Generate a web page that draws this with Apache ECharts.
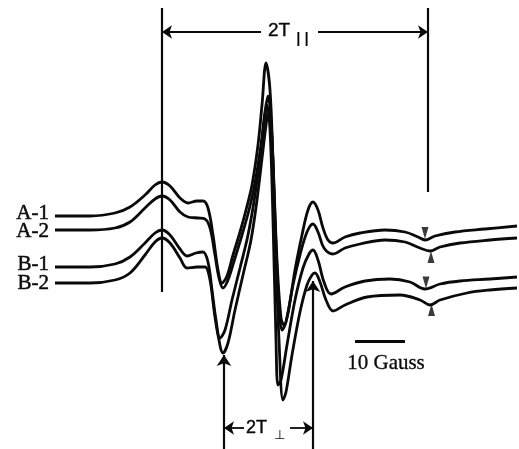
<!DOCTYPE html>
<html><head><meta charset="utf-8">
<script src="https://cdn.jsdelivr.net/npm/echarts@6/dist/echarts.min.js"></script>
<style>html,body{margin:0;padding:0;background:#fff}#c{width:519px;height:449px}</style>
</head><body><div id="c"></div>
<script>
// Field in Gauss (relative), signal in arbitrary units (spectra offset vertically)
const fieldA1 = [11,18,23,26,29,31,32.4,34,36,37.6,39.4,40.6,41.6,42.6,43.6,44.4,45.4,46.6,48,49.2,50.4,51.6,52.4,53.2,54,54.6,55.4,56.2,56.8,57.6,59,60.4,61.6,62.6,63.6,64.6,65.6,66.6,69,72,77,81,83.6,85,87,91,97,103.4];
const signalA1 = [233,233,236,242,254,264,267,263,251,246,248,248,241,214,179,166,173,194,217,239,264,304,344,386,359,289,189,131,124,136,179,214,239,247,239,221,209,206,212,216,219,217,212,209,213,217,220,223];

const fieldA2 = [11,18,23,26,29,31,32.4,34,36,37.6,39.6,41,42,43,43.8,44.6,45.6,47,48.4,49.8,51,52.2,53,53.6,54.2,54.8,55.4,56,56.4,57.2,58.6,60,61.4,62.6,63.6,64.8,66.6,69,72,77,81,84,86,88,92,98,103.4];
const signalA2 = [219,219,221,227,241,250,253,249,237,232,231,230,221,194,171,161,169,191,214,239,266,304,337,353,329,259,179,129,119,127,164,194,217,225,217,201,195,201,205,209,207,201,198,202,206,209,211];

const fieldB1 = [11,18,23,26,29,31,32.4,34,36,37.4,39.2,40.6,41.6,42.4,43.2,44,45,46.4,48,49.6,51,52.2,53,53.4,54,54.6,55.2,55.6,56.2,57.4,59,60.6,61.8,62.6,63.6,64.8,66.2,69,73,78,82,85,88,92,98,103.4];
const signalB1 = [182,182,185,192,206,216,219,214,200,193,196,197,187,159,129,111,119,149,181,214,254,299,334,344,319,229,109,64,69,104,149,181,195,199,189,167,155,162,168,170,167,160,165,168,170,172];

const fieldB2 = [11,18,23,26,29,31,32.4,34,36,37.4,39.4,41,42,42.8,43.6,44.6,45.6,47,48.6,50.2,51.4,52.6,53.4,53.8,54.4,55,55.8,56.6,57.2,58.4,60,61.4,62.4,63,64,65.2,66.6,69,73.4,80,84,86,88,93.4,98,103.4];
const signalB2 = [166,166,169,176,194,207,211,206,191,181,182,182,169,139,114,96,106,139,174,209,249,299,331,339,309,219,109,49,57,94,137,164,174,176,167,149,138,144,152,154,149,144,149,156,159,161];

const traceLabels = ['A-1','A-2','B-1','B-2'];
const traceFields = [fieldA1, fieldA2, fieldB1, fieldB2];
const traceSignals = [signalA1, signalA2, signalB1, signalB2];

// features
const gParallelLow = 32.4, gParallelHigh = 85.6;
const gPerpLow = 44.8, gPerpHigh = 62.6;
const markerFields = [85, 86.2, 85.2, 86.3];
const markerSignals = [216, 192, 166.5, 139];
const markerDown = [true, false, true, false];
const scaleBarStart = 71, scaleBarGauss = 10;

const chart = echarts.init(document.getElementById('c'), null, {renderer:'canvas'});
const black = '#0a0a0a';

const lineSeries = traceLabels.map((name, i) => ({
  name, type:'line', smooth:0.35, symbol:'none', animation:false,
  data: traceFields[i].map((f, j) => [f, traceSignals[i][j]]),
  lineStyle:{color:black, width:2.8}
}));

function seg(a, b, arrow, width, size){
  return {type:'lines', coordinateSystem:'cartesian2d', animation:false,
    symbol: arrow ? ['none','arrow'] : ['none','none'], symbolSize: size || 10,
    lineStyle:{color:black, width: width||1.6, opacity:1},
    data:[{coords:[a,b]}]};
}

const annot = [
  seg([gParallelLow, 157],[gParallelLow, 441], false, 2.2),
  seg([gParallelHigh, 257],[gParallelHigh, 441], false, 2.2),
  seg([52.2, 417],[gParallelLow, 417], true, 1.8),
  seg([63.6, 417],[gParallelHigh, 417], true, 1.8),
  seg([gPerpLow, 0],[gPerpLow, 94], true, 2.2, 11),
  seg([gPerpHigh, 0],[gPerpHigh, 168], true, 2.2, 11),
  seg([48.8, 21],[gPerpLow, 21], true, 1.8),
  seg([58, 21],[gPerpHigh, 21], true, 1.8),
  seg([scaleBarStart, 108],[scaleBarStart + scaleBarGauss, 108], false, 3.2)
];

const markers = markerFields.map((f, i) => ({
  type:'scatter', symbol:'triangle', symbolSize:[7,12], symbolRotate: markerDown[i] ? 180 : 0,
  itemStyle:{color:black}, animation:false, data:[[f, markerSignals[i]]]
}));

chart.setOption({
  backgroundColor:'#fff',
  grid:{left:0,right:0,top:0,bottom:0},
  xAxis:{type:'value', min:0, max:103.8, show:false},
  yAxis:{type:'value', min:0, max:449, show:false},
  series:[...lineSeries, ...annot, ...markers]
});

function px(x, y){ return chart.convertToPixel({gridIndex:0}, [x, y]); }
const serif = '"Liberation Serif", "Times New Roman", serif';
const sans = '"Liberation Sans", Arial, sans-serif';
const g = [];
const labelY = [236, 218, 185, 166];
traceLabels.forEach((t, i) => {
  const p = px(9.8, labelY[i]);
  g.push({type:'text', x:p[0], y:p[1], style:{text:t, font:'21px '+serif, fill:black, stroke:black, lineWidth:0.5, align:'right', verticalAlign:'middle'}});
});
let p = px(55.8, 418);
g.push({type:'text', x:p[0], y:p[1], style:{text:'2T', font:'19px '+sans, fill:black, stroke:black, lineWidth:0.4, align:'center', verticalAlign:'middle'}});
p = px(60.5, 410);
g.push({type:'text', x:p[0], y:p[1], style:{text:'| |', font:'bold 15px '+sans, fill:black, align:'center', verticalAlign:'middle'}});
p = px(51.3, 21);
g.push({type:'text', x:p[0], y:p[1], style:{text:'2T', font:'18px '+sans, fill:black, stroke:black, lineWidth:0.4, align:'center', verticalAlign:'middle'}});
p = px(56.0, 13);
g.push({type:'text', x:p[0], y:p[1], style:{text:'⊥', font:'13px "DejaVu Sans", sans-serif', fill:black, align:'center', verticalAlign:'middle'}});
p = px(scaleBarStart + scaleBarGauss/2 + 1.2, 86);
g.push({type:'text', x:p[0], y:p[1], style:{text: scaleBarGauss + ' Gauss', font:'21px '+serif, fill:black, stroke:black, lineWidth:0.3, align:'center', verticalAlign:'middle'}});
chart.setOption({graphic:g});
</script>
</body></html>
